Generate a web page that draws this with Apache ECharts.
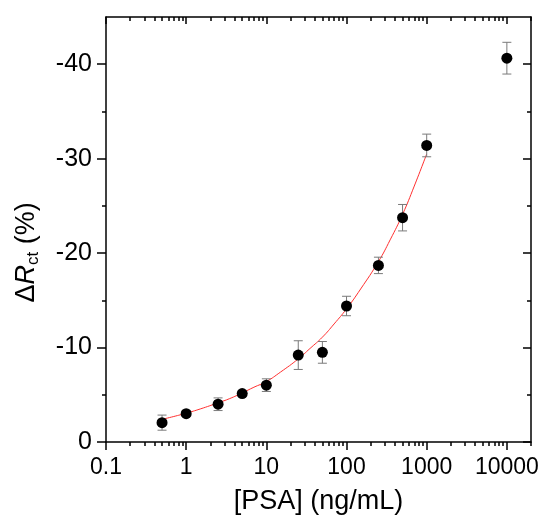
<!DOCTYPE html>
<html>
<head>
<meta charset="utf-8">
<script src="https://cdn.jsdelivr.net/npm/echarts@6/dist/echarts.min.js"></script>
<style>
html,body{margin:0;padding:0;background:#fff;}
#chart{width:544px;height:516px;}
</style>
</head>
<body>
<div id="chart"></div>
<script>
// PSA concentration (ng/mL)
const conc = [0.5, 1, 2.5, 5, 10, 25, 50, 100, 250, 500, 1000, 10000];
// ΔRct (%)
const deltaRct = [-2.05, -3.0, -4.0, -5.13, -6.02, -9.2, -9.49, -14.4, -18.7, -23.75, -31.4, -40.64];
// error (±)
const errs = [0.8, 0.3, 0.67, 0.3, 0.67, 1.52, 1.15, 1.03, 0.87, 1.4, 1.2, 1.68];
// fitted curve
const fitX = [0.5, 0.7, 1, 1.5, 2.5, 3.5, 5, 7, 10, 15, 25, 35, 50, 70, 100, 150, 250, 350, 500, 700, 1000];
const fitY = [-2.4, -2.7, -3.05, -3.5, -4.15, -4.6, -5.2, -5.8, -6.4, -7.4, -8.8, -9.9, -11.1, -12.5, -14.1, -16.2, -19.1, -21.4, -24.1, -27.1, -30.5];
// ticks
const xMajor = [0.1, 1, 10, 100, 1000, 10000];
const xMinor = [0.2,0.3,0.4,0.5,0.6,0.7,0.8,0.9, 2,3,4,5,6,7,8,9, 20,30,40,50,60,70,80,90, 200,300,400,500,600,700,800,900, 2000,3000,4000,5000,6000,7000,8000,9000, 20000];
const yMajor = [-40, -30, -20, -10, 0];
const yMinor = [-35, -25, -15, -5];

const chart = echarts.init(document.getElementById('chart'));
const FONT = 'Liberation Sans, Arial, sans-serif';
const lineStyle = {color: '#000', width: 1.5};
const X_MIN = 0.1, X_MAX = 20000, Y_MIN = -45, Y_MAX = 0;

function xAx(position, ticks, len, inside, showLine, showLabel) {
  return {
    type: 'log', logBase: 10, min: X_MIN, max: X_MAX, position: position, offset: 0,
    axisLine: {show: showLine, onZero: false, lineStyle: lineStyle},
    axisTick: {show: true, customValues: ticks, length: len, inside: inside, lineStyle: lineStyle},
    axisLabel: showLabel ? {show: true, customValues: xMajor, formatter: v => String(v), fontFamily: FONT, fontSize: 23, color: '#000', margin: 14} : {show: false},
    splitLine: {show: false}, minorTick: {show: false}
  };
}
function yAx(position, ticks, len, inside, showLine, showLabel) {
  return {
    type: 'value', min: Y_MIN, max: Y_MAX, inverse: true, position: position, offset: 0,
    axisLine: {show: showLine, onZero: false, lineStyle: lineStyle},
    axisTick: {show: true, customValues: ticks, length: len, inside: inside, lineStyle: lineStyle},
    axisLabel: showLabel ? {show: true, customValues: yMajor, formatter: v => String(v), fontFamily: FONT, fontSize: 25, color: '#000', margin: 14} : {show: false},
    splitLine: {show: false}
  };
}

const xAxes = [
  xAx('bottom', xMajor, 8, false, true, true),
  xAx('bottom', xMinor, 4, false, false, false),
  xAx('top', xMajor, 7, true, true, false),
  xAx('top', xMinor, 4, true, false, false)
];
Object.assign(xAxes[0], {
  name: '[PSA] (ng/mL)', nameLocation: 'middle', nameGap: 46,
  nameTextStyle: {fontFamily: FONT, fontSize: 27, color: '#000'}
});
const yAxes = [
  yAx('left', yMajor, 9, false, true, true),
  yAx('left', yMinor, 4, false, false, false),
  yAx('right', yMajor, 8, true, true, false),
  yAx('right', yMinor, 4, true, false, false)
];
Object.assign(yAxes[0], {
  name: '{d|Δ}{r|R}{s|ct}{d| (%)}', nameLocation: 'middle', nameGap: 64, nameRotate: 90,
  nameTextStyle: {
    fontFamily: FONT, color: '#000', padding: [0, 46, 0, 0],
    rich: {
      d: {fontFamily: FONT, fontSize: 27, lineHeight: 31, color: '#000'},
      r: {fontFamily: FONT, fontSize: 27, lineHeight: 31, fontStyle: 'italic', color: '#000'},
      s: {fontFamily: FONT, fontSize: 17, lineHeight: 20, verticalAlign: 'bottom', color: '#000'}
    }
  }
});

const pts = conc.map((c, i) => [c, deltaRct[i]]);
const bars = conc.map((c, i) => [c, deltaRct[i] - errs[i], deltaRct[i] + errs[i]]);
const fit = fitX.map((x, i) => [x, fitY[i]]);

chart.setOption({
  animation: false,
  backgroundColor: '#fff',
  grid: {left: 106, right: 13, top: 17, bottom: 74, containLabel: false, outerBoundsMode: 'none'},
  xAxis: xAxes,
  yAxis: yAxes,
  series: [
    {
      type: 'line', data: fit, xAxisIndex: 0, yAxisIndex: 0, showSymbol: false, smooth: true,
      lineStyle: {color: '#ff3030', width: 1}, z: 2
    },
    {
      type: 'custom', data: bars, xAxisIndex: 0, yAxisIndex: 0, encode: {x: 0, y: [1, 2]}, z: 3,
      renderItem: function (params, api) {
        const x = api.value(0);
        const a = api.coord([x, api.value(1)]);
        const b = api.coord([x, api.value(2)]);
        const w = 4.5;
        const st = {stroke: '#7a7a7a', lineWidth: 1};
        return {type: 'group', children: [
          {type: 'line', shape: {x1: a[0], y1: a[1], x2: b[0], y2: b[1]}, style: st},
          {type: 'line', shape: {x1: a[0] - w, y1: a[1], x2: a[0] + w, y2: a[1]}, style: st},
          {type: 'line', shape: {x1: b[0] - w, y1: b[1], x2: b[0] + w, y2: b[1]}, style: st}
        ]};
      }
    },
    {
      type: 'scatter', data: pts, xAxisIndex: 0, yAxisIndex: 0, symbol: 'circle', symbolSize: 11,
      itemStyle: {color: '#000', opacity: 1}, z: 4
    }
  ]
});
</script>
</body>
</html>
